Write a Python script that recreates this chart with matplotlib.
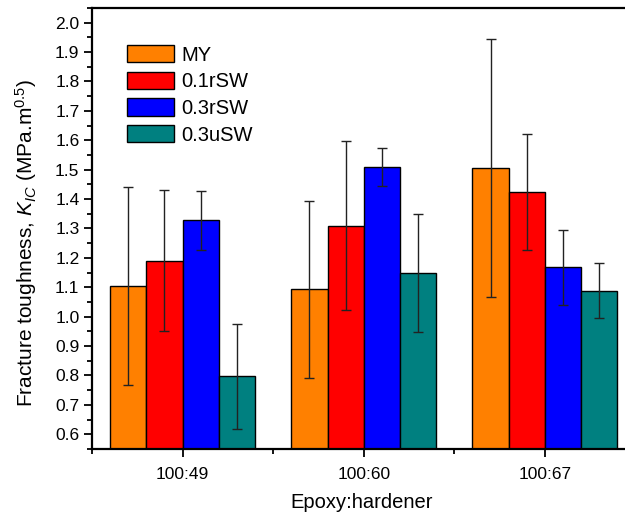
import numpy as np
import matplotlib
matplotlib.use("Agg")
import matplotlib.pyplot as plt
from matplotlib.ticker import MultipleLocator, FixedLocator

plt.rcParams['font.family'] = ['Liberation Sans', 'DejaVu Sans']
plt.rcParams['mathtext.fontset'] = 'custom'
plt.rcParams['mathtext.rm'] = 'Liberation Sans'
plt.rcParams['mathtext.it'] = 'Liberation Sans:italic'

# Data
groups = ['100:49', '100:60', '100:67']
series = ['MY', '0.1rSW', '0.3rSW', '0.3uSW']
colors = ['#FF8000', '#FF0000', '#0000FF', '#008080']
means = {
    'MY':     [1.104, 1.093, 1.506],
    '0.1rSW': [1.190, 1.310, 1.423],
    '0.3rSW': [1.328, 1.510, 1.168],
    '0.3uSW': [0.797, 1.148, 1.088],
}
errors = {
    'MY':     [0.336, 0.300, 0.440],
    '0.1rSW': [0.240, 0.288, 0.197],
    '0.3rSW': [0.101, 0.065, 0.128],
    '0.3uSW': [0.178, 0.201, 0.094],
}

W, H = 625, 516
fig = plt.figure(figsize=(W / 100, H / 100), dpi=100)
ax = fig.add_axes([92 / W, (H - 449) / H, (635.5 - 92) / W, (449 - 8) / H])

x = np.arange(1, len(groups) + 1)
width = 0.2
offsets = (np.arange(len(series)) - (len(series) - 1) / 2) * width

for name, col, off in zip(series, colors, offsets):
    ax.bar(x + off, means[name], width, color=col, edgecolor='black',
           linewidth=1.0, label=name, zorder=2)
    ax.errorbar(x + off, means[name], yerr=errors[name], fmt='none',
                ecolor='#222222', elinewidth=1.0, capsize=3.5, capthick=1.0,
                zorder=3)

ax.set_xlim(0.5, 3.5)
ax.set_ylim(0.55, 2.05)

ax.xaxis.set_major_locator(FixedLocator(x))
ax.xaxis.set_minor_locator(FixedLocator([0.5, 1.5, 2.5, 3.5]))
ax.set_xticklabels(groups)
ax.yaxis.set_major_locator(MultipleLocator(0.1))
ax.yaxis.set_minor_locator(MultipleLocator(0.05))
ax.yaxis.set_major_formatter(matplotlib.ticker.FormatStrFormatter('%.1f'))

ax.tick_params(axis='both', which='major', direction='out', length=6,
               width=1.3, labelsize=12.5, colors='black')
ax.tick_params(axis='both', which='minor', direction='out', length=3.5,
               width=1.3)
ax.tick_params(axis='x', which='major', pad=7)
ax.tick_params(axis='y', which='major', pad=3)

for side in ['left', 'bottom', 'top', 'right']:
    ax.spines[side].set_linewidth(1.6)

ax.set_xlabel('Epoxy:hardener', fontsize=14.5)
ax.xaxis.set_label_coords((361.5 - 92) / 543.5, -(493 - 449) / 441)
ax.set_ylabel(r'Fracture toughness, $K_{IC}$ (MPa.m$^{0.5}$)', fontsize=15)
ax.yaxis.set_label_coords((39 - 92) / 543.5, (449 - 243) / 441)

ax.legend(loc='upper left', bbox_to_anchor=(127 / W, 1 - 45 / H),
          bbox_transform=fig.transFigure, frameon=False, fontsize=14.5,
          handlelength=2.35, handleheight=0.95, handletextpad=0.35,
          labelspacing=0.35, borderpad=0, borderaxespad=0)

fig.savefig('out.png', dpi=100)
